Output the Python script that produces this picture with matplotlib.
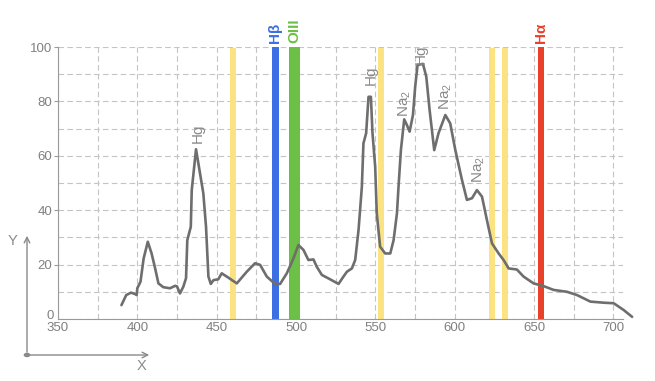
import matplotlib
matplotlib.use("Agg")
import matplotlib.pyplot as plt
import numpy as np

plt.rcParams['font.family'] = ['Liberation Sans', 'DejaVu Sans']
plt.rcParams['mathtext.fontset'] = 'custom'
plt.rcParams['mathtext.rm'] = 'Liberation Sans'
plt.rcParams['mathtext.it'] = 'Liberation Sans'
plt.rcParams['mathtext.default'] = 'rm'

# spectrum
wavelength = [390, 393, 396, 398.5, 399.6, 400, 402, 404, 406.6, 409, 411, 413.3,
              416.4, 420.6, 423.8, 425, 426.9, 429, 430.7, 431.5, 433.7, 434.3, 437,
              439.5, 441.6, 443.3, 444.8, 446.3, 448, 451, 453.2, 457.4, 462.7, 469,
              474.2, 477.4, 481.6, 486.8, 490, 494.2, 498.4, 501.5, 504.7, 507.8, 511,
              513.1, 516.3, 521.5, 526.8, 529.9, 532.1, 535.2, 537.3, 539.4, 541.5,
              542.5, 544.2, 545.7, 547.2, 548.2, 549.9, 550.9, 553, 556.2, 559.4,
              561.5, 563.6, 564.6, 566.1, 568.2, 569.9, 571.6, 573.7, 575.1, 576.6,
              580, 582.1, 584.2, 587.1, 589.8, 594.1, 597.2, 600.4, 604.6, 607.7,
              610.9, 614, 617.2, 620.3, 623.5, 627.7, 630.8, 634, 639.2, 643.4, 649.7,
              656, 662.3, 670.8, 677.1, 685.5, 693.9, 700.2, 706.5, 711.8]
intensity = [5.1, 8.8, 9.7, 9.2, 8.8, 11.3, 13.7, 22.3, 28.4, 24.1, 19.2, 13.1,
             11.7, 11.3, 12.2, 12.0, 9.4, 11.9, 15, 29, 33.9, 47.4, 62.4,
             53.6, 46.2, 33.9, 15.6, 12.9, 14.3, 14.6, 16.8, 15.2, 13.1, 17.4,
             20.5, 19.9, 15.6, 12.9, 12.9, 16.8, 22.3, 27.2, 25.4, 21.7, 21.9,
             19.2, 16.2, 14.6, 12.9, 15.6, 17.4, 18.6, 21.7, 32.7, 48.6,
             64.6, 68.3, 81.7, 81.7, 68.3, 56, 38.8, 26.6, 24.1, 24.1,
             29, 38.8, 48.6, 62.1, 73.4, 71.3, 68.9, 75, 85.4, 93.4,
             93.8, 89.1, 76.8, 62.1, 68.3, 75, 71.9, 62.1, 51.1, 43.8,
             44.4, 47.4, 45, 36.4, 27.8, 24.1, 21.7, 18.6, 18.2, 15.6, 13.1,
             12.1, 10.7, 10, 8.8, 6.4, 6, 5.8, 3.3, 0.8]

# vertical marker bands (left, right in nm)
yellow_bands = [(458.5, 462.5), (551.5, 555.5), (621.5, 625.5), (629.5, 633.5)]
line_bands = [(485, 489), (495.5, 502.5), (652.5, 656.5)]
line_names = ['Hβ', 'OIII', 'Hα']
line_colors = ['#3b6fe3', '#6cbf47', '#e9402a']

peak_labels = ['Hg', 'Hg', 'Na$_2$', 'Hg', 'Na$_2$', 'Na$_2$']
peak_x = [438.3, 546.8, 568.8, 578.3, 594.5, 615]
peak_y = [68.4, 89.7, 79.4, 97.5, 81.7, 54.8]

fig = plt.figure(figsize=(6.55, 3.81), dpi=100)
ax = fig.add_axes([0.0885, 0.1627, 0.951 - 0.0885, 0.8766 - 0.1627])

for l, r in yellow_bands:
    ax.axvspan(l, r, ymin=0, ymax=0.995, color='#fbe384', lw=0, zorder=1)
for (l, r), c in zip(line_bands, line_colors):
    ax.axvspan(l, r, color=c, lw=0, zorder=1)

ax.plot(wavelength, intensity, color='#6e6e6e', lw=1.9, zorder=3,
        clip_on=False, solid_capstyle='round', solid_joinstyle='round')

for t, x, y in zip(peak_labels, peak_x, peak_y):
    ax.text(x, y, t, rotation=90, ha='center', va='center', color='#8a8a8a',
            fontsize=11, zorder=4, clip_on=False)

for (l, r), name, c in zip(line_bands, line_names, line_colors):
    ax.text((l + r) / 2, 101.5, name, rotation=90, ha='center', va='bottom',
            color=c, fontsize=11, fontweight='bold', clip_on=False)

ax.set_xlim(350, 706)
ax.set_ylim(0, 100)
ax.set_xticks(np.arange(350, 701, 50))
ax.set_xticks(np.arange(350, 706, 25), minor=True)
ax.set_yticks(np.arange(20, 101, 20))
ax.set_yticks(np.arange(0, 101, 10), minor=True)
ax.grid(True, which='both', color='#c4c4c4', ls=(0, (5, 3)), lw=0.8, zorder=0)
ax.set_axisbelow(True)

for s in ['top', 'right']:
    ax.spines[s].set_visible(False)
for s in ['left', 'bottom']:
    ax.spines[s].set_color('#9a9a9a')
    ax.spines[s].set_linewidth(0.8)

ax.tick_params(axis='x', which='both', length=0, pad=2, labelsize=9.5,
               labelcolor='#808080')
ax.tick_params(axis='y', which='major', length=3, width=0.8, color='#9a9a9a',
               pad=1, labelsize=9.5, labelcolor='#808080')
ax.tick_params(axis='y', which='minor', length=0)
# the zero label sits just above the corner
ax.annotate('0', xy=(0, 0), xycoords='axes fraction', xytext=(-3, 0),
            textcoords='offset points', ha='right', va='baseline',
            color='#808080', fontsize=9.5)

# small axis icon in the corner
fig.patches.append(plt.Circle((27 / 655, 1 - 355 / 381), 0.004, color='#8a8a8a',
                              transform=fig.transFigure))
fig.add_artist(matplotlib.patches.FancyArrowPatch(
    (27 / 655, 1 - 355 / 381), (27 / 655, 1 - 233 / 381), transform=fig.transFigure,
    arrowstyle='->', mutation_scale=10, color='#8a8a8a', lw=1))
fig.add_artist(matplotlib.patches.FancyArrowPatch(
    (27 / 655, 1 - 355 / 381), (152 / 655, 1 - 355 / 381), transform=fig.transFigure,
    arrowstyle='->', mutation_scale=10, color='#8a8a8a', lw=1))
fig.text(13 / 655, 1 - 241 / 381, 'Y', ha='center', va='center', color='#8a8a8a',
         fontsize=10.5)
fig.text(142 / 655, 1 - 366 / 381, 'X', ha='center', va='center', color='#8a8a8a',
         fontsize=10.5)

fig.savefig('out.png', dpi=100)
